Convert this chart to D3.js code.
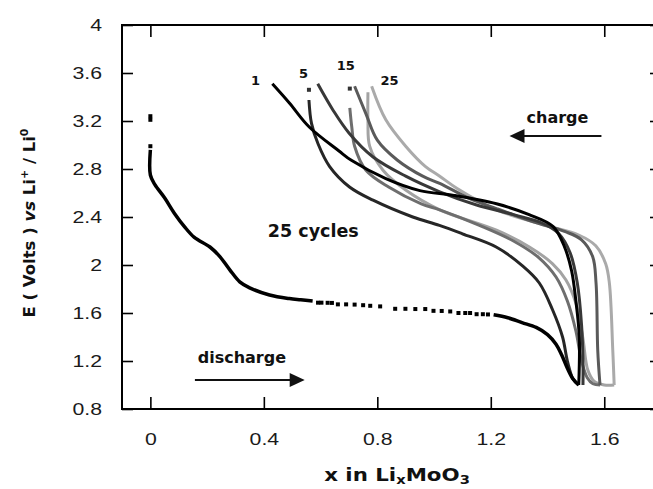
<!DOCTYPE html>
<html>
<head>
<meta charset="utf-8">
<script src="https://cdn.jsdelivr.net/npm/d3@7"></script>
<style>
  body { margin: 0; background: #fff; overflow: hidden; }
  svg { display: block; }
  .tick line { stroke: #000; stroke-width: 1.6px; }
</style>
</head>
<body>
<div id="chartArea"></div>
<script>
// Achsen-Ticks
const xTicks = [0, 0.4, 0.8, 1.2, 1.6];
const xTickLabels = ["0", "0.4", "0.8", "1.2", "1.6"];
const yTicks = [0.8, 1.2, 1.6, 2.0, 2.4, 2.8, 3.2, 3.6, 4.0];
const yTickLabels = ["0.8", "1.2", "1.6", "2", "2.4", "2.8", "3.2", "3.6", "4"];

// 1. Entladung (x, E) – durchgezogener Teil
const discharge1Start = [[0, 2.96], [0, 2.75], [0.016, 2.67], [0.05, 2.56], [0.085, 2.43], [0.12, 2.32],
  [0.155, 2.23], [0.21, 2.15], [0.245, 2.07], [0.28, 1.96], [0.315, 1.86], [0.35, 1.81], [0.42, 1.75],
  [0.49, 1.72], [0.53, 1.71], [0.572, 1.70]];
// gepunkteter Teil (einzelne Messpunkte)
const discharge1Dots = [[0, 3.24], [0, 3.21], [0, 2.99], [0.591, 1.686], [0.603, 1.686], [0.625, 1.685],
  [0.64, 1.684], [0.661, 1.672], [0.69, 1.672], [0.72, 1.67], [0.75, 1.665], [0.775, 1.66], [0.81, 1.655],
  [0.863, 1.635], [0.899, 1.635], [0.934, 1.633], [0.969, 1.633], [0.998, 1.618], [1.027, 1.617],
  [1.057, 1.613], [1.086, 1.60], [1.11, 1.60], [1.127, 1.60], [1.15, 1.59], [1.172, 1.59], [1.19, 1.588]];
const discharge1End = [[1.21, 1.585], [1.26, 1.56], [1.31, 1.52], [1.36, 1.48], [1.40, 1.42], [1.43, 1.34],
  [1.45, 1.25], [1.47, 1.14], [1.49, 1.05], [1.51, 1.0]];

// Ladekurven
const charge1 = [[1.51, 1.0], [1.512, 1.4], [1.50, 1.7], [1.485, 1.95], [1.46, 2.15], [1.42, 2.32],
  [1.335, 2.42], [1.22, 2.51], [1.07, 2.58], [0.95, 2.62], [0.83, 2.72], [0.71, 2.87], [0.665, 2.95],
  [0.56, 3.15], [0.49, 3.35], [0.43, 3.51]];
const charge5 = [[1.525, 1.0], [1.525, 1.2], [1.52, 1.5], [1.505, 1.85], [1.48, 2.10], [1.44, 2.26],
  [1.38, 2.35], [1.28, 2.42], [1.15, 2.50], [1.02, 2.61], [0.90, 2.74], [0.785, 2.90], [0.70, 3.10],
  [0.644, 3.29], [0.59, 3.51]];
const charge15 = [[1.585, 1.0], [1.577, 1.29], [1.571, 1.85], [1.559, 2.07], [1.52, 2.21], [1.46, 2.28],
  [1.35, 2.36], [1.22, 2.47], [1.12, 2.56], [1.02, 2.68], [0.96, 2.74], [0.87, 2.875], [0.80, 3.04],
  [0.76, 3.26], [0.72, 3.49]];
const charge25 = [[1.635, 1.0], [1.63, 1.29], [1.618, 1.85], [1.605, 2.01], [1.57, 2.16], [1.51, 2.25],
  [1.395, 2.33], [1.22, 2.46], [1.08, 2.64], [1.02, 2.74], [0.97, 2.82], [0.90, 2.99], [0.83, 3.21],
  [0.78, 3.49]];

// Entladekurven der späteren Zyklen
const discharge5 = [[0.559, 3.375], [0.568, 3.18], [0.591, 3.01], [0.632, 2.82], [0.702, 2.65], [0.785, 2.54],
  [0.925, 2.40], [1.019, 2.33], [1.10, 2.26], [1.219, 2.15], [1.313, 1.99], [1.371, 1.85], [1.418, 1.625],
  [1.453, 1.40], [1.47, 1.2], [1.49, 1.05], [1.51, 1.0]];
const discharge15 = [[0.703, 3.31], [0.71, 3.15], [0.72, 2.99], [0.76, 2.79], [0.84, 2.65], [0.955, 2.51],
  [1.02, 2.46], [1.16, 2.33], [1.28, 2.20], [1.37, 2.06], [1.43, 1.90], [1.47, 1.70], [1.50, 1.45],
  [1.52, 1.2], [1.54, 1.06], [1.56, 1.01], [1.585, 1.0]];
const discharge25 = [[0.767, 3.44], [0.767, 3.2], [0.773, 2.99], [0.82, 2.79], [0.90, 2.625], [1.02, 2.46],
  [1.22, 2.29], [1.336, 2.15], [1.418, 2.01], [1.465, 1.875], [1.50, 1.68], [1.524, 1.40], [1.542, 1.125],
  [1.565, 1.03], [1.60, 1.0], [1.635, 1.0]];
const cycleDots = [[0.559, 3.46], [0.703, 3.47]];

const cycleLabels = ["1", "5", "15", "25"];

// Layout und Skalen
const width = 653, height = 489;
const margin = {top: 25, left: 122};
const innerWidth = 539, innerHeight = 384;
const boldFont = "'DejaVu Sans', Verdana, sans-serif";
const tickFont = "'Liberation Sans', Arial, sans-serif";

const svgRoot = d3.select("#chartArea").append("svg")
    .attr("width", width)
    .attr("height", height);
const svg = svgRoot.append("g")
    .attr("transform", `translate(${margin.left}, ${margin.top})`);

const xScale = d3.scaleLinear().domain([-0.1, 1.8]).range([0, innerWidth]);
const yScale = d3.scaleLinear().domain([0.8, 4.0]).range([innerHeight, 0]);

// Tick-Texte etwas breiter gezogen wie im Original
function styleTicks(g) {
  g.attr("font-size", null).attr("font-family", null);
  g.select(".domain").remove();
  g.selectAll("text")
      .attr("font-family", tickFont)
      .attr("font-size", 17)
      .attr("fill", "#1a1a1a");
}

svg.append("g")
    .attr("transform", `translate(0,${innerHeight})`)
    .call(d3.axisBottom(xScale).tickValues(xTicks).tickFormat((d, i) => xTickLabels[i])
        .tickSizeInner(-12).tickSizeOuter(0).tickPadding(24))
    .call(styleTicks)
    .call(g => g.selectAll("text").attr("transform", "scale(1.25,1)"));

svg.append("g")
    .call(d3.axisTop(xScale).tickValues(xTicks).tickFormat("")
        .tickSizeInner(-12).tickSizeOuter(0))
    .call(styleTicks)
    .call(g => g.selectAll("text").remove());

svg.append("g")
    .call(d3.axisLeft(yScale).tickValues(yTicks).tickFormat((d, i) => yTickLabels[i])
        .tickSizeInner(-11).tickSizeOuter(0))
    .call(styleTicks)
    .call(g => g.selectAll("text").attr("x", 0).attr("transform", "translate(-20,0) scale(1.25,1)"));

svg.append("g")
    .attr("transform", `translate(${innerWidth},0)`)
    .call(d3.axisRight(yScale).tickValues(yTicks).tickFormat("")
        .tickSizeInner(-11).tickSizeOuter(0))
    .call(styleTicks)
    .call(g => g.selectAll("text").remove());

svg.append("rect")
    .attr("x", 0).attr("y", 0)
    .attr("width", innerWidth).attr("height", innerHeight)
    .attr("fill", "none")
    .attr("stroke", "#000")
    .attr("stroke-width", 2);

// Kurven
const line = d3.line()
    .x(d => xScale(d[0]))
    .y(d => yScale(d[1]))
    .curve(d3.curveCatmullRom.alpha(0.5));

const curves = [
  {data: discharge25, color: "#a3a3a3", w: 3},
  {data: charge25, color: "#aaaaaa", w: 3},
  {data: discharge15, color: "#6e6e6e", w: 3},
  {data: charge15, color: "#5a5a5a", w: 3},
  {data: discharge5, color: "#262626", w: 3},
  {data: charge5, color: "#383838", w: 3},
  {data: charge1, color: "#000", w: 3},
  {data: discharge1Start, color: "#000", w: 3.5},
  {data: discharge1End, color: "#000", w: 3.5}
];

svg.selectAll(".curve")
    .data(curves)
    .enter()
    .append("path")
    .attr("class", "curve")
    .attr("d", d => line(d.data))
    .attr("fill", "none")
    .attr("stroke", d => d.color)
    .attr("stroke-width", d => d.w)
    .attr("stroke-linejoin", "round");

svg.selectAll(".dot")
    .data(discharge1Dots.concat(cycleDots))
    .enter()
    .append("rect")
    .attr("class", "dot")
    .attr("x", d => xScale(d[0]) - 2)
    .attr("y", d => yScale(d[1]) - 2)
    .attr("width", 4)
    .attr("height", 4)
    .attr("fill", (d, i) => i >= discharge1Dots.length ? "#333" : "#000");

// Beschriftungen im Diagramm
function label(parent, x, y, size, txt) {
  return parent.append("text")
      .attr("x", x).attr("y", y)
      .attr("font-family", boldFont)
      .attr("font-weight", "bold")
      .attr("font-size", size)
      .attr("fill", "#111")
      .text(txt);
}

const labelPos = [[0.371, 3.5], [0.54, 3.558], [0.689, 3.625], [0.843, 3.5]];
cycleLabels.forEach((c, i) => {
  label(svg, xScale(labelPos[i][0]), yScale(labelPos[i][1]), 13, c).attr("text-anchor", "middle");
});

label(svg, xScale(0.414), yScale(2.233), 17.5, "25 cycles");
label(svg, xScale(1.326), yScale(3.183), 16, "charge");
label(svg, xScale(0.167), yScale(1.183), 16, "discharge");

// Pfeile
function arrow(x1, x2, v) {
  const y = yScale(v), a = xScale(x1), b = xScale(x2);
  const dir = b > a ? 1 : -1;
  svg.append("line")
      .attr("x1", a).attr("x2", b - dir * 10).attr("y1", y).attr("y2", y)
      .attr("stroke", "#111").attr("stroke-width", 2);
  svg.append("path")
      .attr("d", `M${b},${y} L${b - dir * 15},${y - 7} L${b - dir * 15},${y + 7} Z`)
      .attr("fill", "#111");
}
arrow(1.59, 1.266, 3.075);
arrow(0.157, 0.544, 1.042);

// Achsenbeschriftung
const xl = label(svgRoot, 0, 0, 17.5, null)
    .attr("text-anchor", "middle")
    .attr("transform", "translate(397,481) scale(1.22,1)");
xl.append("tspan").text("x in Li");
xl.append("tspan").attr("dy", 3).attr("font-size", 12).text("x");
xl.append("tspan").attr("dy", -3).text("MoO");
xl.append("tspan").attr("dy", 3).attr("font-size", 12).text("3");

const yl = label(svgRoot, 0, 0, 16.5, null)
    .attr("text-anchor", "middle")
    .attr("transform", "translate(35,223) rotate(-90)");
yl.append("tspan").text("E ( Volts ) ");
yl.append("tspan").attr("font-style", "italic").text("vs");
yl.append("tspan").text(" Li");
yl.append("tspan").attr("dy", -7).attr("font-size", 11).text("+");
yl.append("tspan").attr("dy", 7).text(" / Li");
yl.append("tspan").attr("dy", -7).attr("font-size", 11).text("0");
</script>
</body>
</html>
